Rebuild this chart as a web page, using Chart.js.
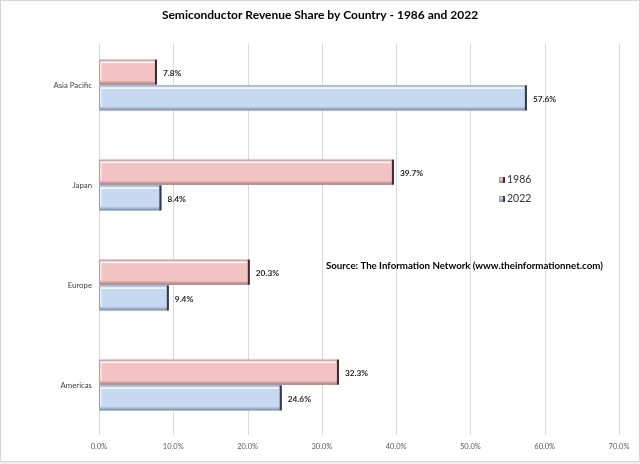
<!DOCTYPE html>
<html>
<head>
<meta charset="utf-8">
<script src="https://cdn.jsdelivr.net/npm/chart.js@4"></script>
<style>
  html, body { margin: 0; padding: 0; background: #ffffff; }
  #wrap { width: 640px; height: 464px; position: relative; }
</style>
</head>
<body>
<div id="wrap"><canvas id="c" width="640" height="464"></canvas></div>
<script>
const chartTitle = 'Semiconductor Revenue Share by Country - 1986 and 2022';
const sourceNote = 'Source: The Information Network (www.theinformationnet.com)';
const categories = ['Asia Pacific', 'Japan', 'Europe', 'Americas'];
const seriesNames = ['1986', '2022'];
const values1986 = [7.8, 39.7, 20.3, 32.3];
const values2022 = [57.6, 8.4, 9.4, 24.6];
const xTickValues = [0, 10, 20, 30, 40, 50, 60, 70];

const FONT = 'Lato, "Noto Sans", sans-serif';

const styles = [
  { fill: '#f3c3c3', outline: '#c49696', shade: '#a07d7d', edge: '#3a2e2e' },
  { fill: '#c6d9f1', outline: '#8ea4c2', shade: '#7f8ea4', edge: '#323a46' }
];

function drawBevel(ctx, left, top, w, h, st) {
  ctx.save();
  ctx.fillStyle = st.fill;
  ctx.fillRect(left, top, w, h);
  ctx.strokeStyle = st.outline;
  ctx.lineWidth = 1;
  ctx.strokeRect(left + 0.5, top + 0.5, w - 1, h - 1);
  ctx.fillStyle = 'rgba(255,255,255,0.9)';
  ctx.fillRect(left + 2, top + 2, Math.max(0, w - 5), 1.5);
  ctx.fillRect(left + 1.5, top + 2, 1, Math.max(0, h - 5));
  const g = ctx.createLinearGradient(0, top + h - 4, 0, top + h);
  g.addColorStop(0, st.fill);
  g.addColorStop(1, st.shade);
  ctx.fillStyle = g;
  ctx.fillRect(left + 1, top + h - 4, Math.max(0, w - 2), 4);
  ctx.fillStyle = st.edge;
  ctx.fillRect(left + w - 2, top, 2, h);
  ctx.restore();
}

const framePlugin = {
  id: 'frame',
  beforeDraw(chart) {
    const ctx = chart.ctx;
    ctx.save();
    ctx.fillStyle = '#efefef';
    ctx.fillRect(0, 0, chart.width, chart.height);
    ctx.fillStyle = '#ffffff';
    ctx.fillRect(1, 1, chart.width - 2, chart.height - 4);
    ctx.strokeStyle = '#d6d6d6';
    ctx.lineWidth = 1;
    ctx.strokeRect(0.5, 0.5, chart.width - 1, chart.height - 3);
    ctx.restore();
  },
  beforeDatasetsDraw(chart) {
    const ctx = chart.ctx;
    const xs = chart.scales.x;
    const area = chart.chartArea;
    ctx.save();
    ctx.strokeStyle = '#d9d9d9';
    ctx.lineWidth = 1;
    xs.ticks.forEach(t => {
      const px = Math.round(xs.getPixelForValue(t.value)) + 0.5;
      ctx.beginPath();
      ctx.moveTo(px, area.top + 8.5);
      ctx.lineTo(px, area.bottom);
      ctx.stroke();
    });
    ctx.restore();
  }
};

const barsPlugin = {
  id: 'bevelBars',
  afterDatasetsDraw(chart) {
    const ctx = chart.ctx;
    chart.data.datasets.forEach((ds, di) => {
      const meta = chart.getDatasetMeta(di);
      meta.data.forEach((el, i) => {
        const p = el.getProps(['x', 'y', 'base', 'height'], true);
        const left = Math.min(p.base, p.x);
        const right = Math.max(p.base, p.x);
        const top = p.y - p.height / 2;
        drawBevel(ctx, left, top, right - left, p.height, styles[di]);
        ctx.save();
        ctx.font = 'bold 8.3px ' + FONT;
        ctx.fillStyle = '#262626';
        ctx.textAlign = 'left';
        ctx.textBaseline = 'middle';
        ctx.fillText(ds.data[i].toFixed(1) + '%', right + 6, p.y + 1);
        ctx.restore();
      });
    });
  },
  afterDraw(chart) {
    const ctx = chart.ctx;
    ctx.save();
    seriesNames.forEach((name, i) => {
      const y = 180 + i * 19;
      drawBevel(ctx, 499, y - 3, 6, 6, styles[i]);
      ctx.font = '10.5px ' + FONT;
      ctx.fillStyle = '#333333';
      ctx.textAlign = 'left';
      ctx.textBaseline = 'middle';
      ctx.fillText(name, 507, y);
    });
    ctx.font = 'bold 9.7px ' + FONT;
    ctx.fillStyle = '#000000';
    ctx.textAlign = 'left';
    ctx.textBaseline = 'middle';
    ctx.fillText(sourceNote, 326, 266);
    ctx.restore();
  }
};

new Chart(document.getElementById('c'), {
  type: 'bar',
  data: {
    labels: categories,
    datasets: [
      { label: seriesNames[0], data: values1986, backgroundColor: 'rgba(0,0,0,0)', borderWidth: 0 },
      { label: seriesNames[1], data: values2022, backgroundColor: 'rgba(0,0,0,0)', borderWidth: 0 }
    ]
  },
  options: {
    indexAxis: 'y',
    responsive: false,
    animation: false,
    devicePixelRatio: 1,
    categoryPercentage: 0.515,
    barPercentage: 0.97,
    layout: { padding: { left: 21, right: 21, top: 0, bottom: 6 } },
    plugins: {
      legend: { display: false },
      tooltip: { enabled: false },
      title: {
        display: true,
        text: chartTitle,
        color: '#000000',
        font: { family: FONT, size: 12, weight: 'bold' },
        padding: { top: 8, bottom: 12.6 }
      }
    },
    scales: {
      x: {
        min: 0,
        max: 70,
        afterBuildTicks(scale) { scale.ticks = xTickValues.map(v => ({ value: v })); },
        grid: { display: false, drawTicks: false },
        border: { display: false },
        ticks: {
          padding: 7,
          color: '#595959',
          font: { family: FONT, size: 7.5 },
          callback: v => Number(v).toFixed(1) + '%'
        }
      },
      y: {
        grid: { display: false, drawTicks: false },
        border: { display: false },
        afterFit(scale) { scale.width = 78; },
        ticks: {
          padding: 7,
          color: '#404040',
          font: { family: FONT, size: 7.8 }
        }
      }
    }
  },
  plugins: [framePlugin, barsPlugin]
});
</script>
</body>
</html>
